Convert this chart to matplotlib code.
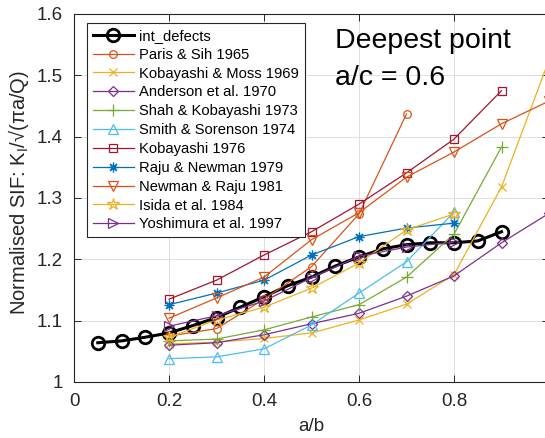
import matplotlib
matplotlib.use("Agg")
import matplotlib.pyplot as plt
from matplotlib.ticker import FormatStrFormatter

plt.rcParams['font.family'] = ['Liberation Sans', 'DejaVu Sans']
plt.rcParams['mathtext.fontset'] = 'custom'
plt.rcParams['mathtext.rm'] = 'Liberation Sans'
plt.rcParams['mathtext.it'] = 'Liberation Sans:italic'

# ---- data ----
int_x = [0.05, 0.1, 0.15, 0.2, 0.25, 0.3, 0.35, 0.4, 0.45, 0.5, 0.55, 0.6, 0.65, 0.7, 0.75, 0.8, 0.85, 0.9]
int_y = [1.064, 1.067, 1.073, 1.080, 1.092, 1.105, 1.122, 1.139, 1.157, 1.171, 1.189, 1.204, 1.217, 1.224, 1.227, 1.227, 1.230, 1.245]

paris_x = [0.2, 0.3, 0.4, 0.5, 0.6, 0.7]
paris_y = [1.075, 1.087, 1.135, 1.188, 1.274, 1.437]

kmoss_x = [0.2, 0.3, 0.4, 0.5, 0.6, 0.7, 0.8, 0.9, 1.0]
kmoss_y = [1.062, 1.065, 1.071, 1.080, 1.101, 1.127, 1.175, 1.318, 1.525]

anderson_x = [0.2, 0.3, 0.4, 0.5, 0.6, 0.7, 0.8, 0.9, 1.0]
anderson_y = [1.060, 1.064, 1.077, 1.095, 1.112, 1.140, 1.173, 1.227, 1.275]

shah_x = [0.2, 0.3, 0.4, 0.5, 0.6, 0.7, 0.8, 0.9]
shah_y = [1.067, 1.070, 1.085, 1.106, 1.126, 1.171, 1.241, 1.383]

smith_x = [0.2, 0.3, 0.4, 0.5, 0.6, 0.7, 0.8]
smith_y = [1.038, 1.041, 1.054, 1.093, 1.145, 1.196, 1.277]

koba76_x = [0.2, 0.3, 0.4, 0.5, 0.6, 0.7, 0.8, 0.9]
koba76_y = [1.135, 1.166, 1.207, 1.245, 1.290, 1.341, 1.396, 1.475]

rajnew_x = [0.2, 0.3, 0.4, 0.5, 0.6, 0.7, 0.8]
rajnew_y = [1.126, 1.145, 1.166, 1.207, 1.237, 1.251, 1.259]

newraj_x = [0.2, 0.3, 0.4, 0.5, 0.6, 0.7, 0.8, 0.9, 1.0]
newraj_y = [1.104, 1.137, 1.171, 1.232, 1.276, 1.334, 1.375, 1.421, 1.458]

isida_x = [0.2, 0.3, 0.4, 0.5, 0.6, 0.7, 0.8]
isida_y = [1.073, 1.101, 1.122, 1.153, 1.194, 1.248, 1.274]

yoshi_x = [0.2, 0.3, 0.4, 0.5, 0.6, 0.7, 0.8]
yoshi_y = [1.091, 1.108, 1.132, 1.170, 1.205, 1.220, 1.228]

labels = ['int_defects', 'Paris & Sih 1965', 'Kobayashi & Moss 1969', 'Anderson et al. 1970',
          'Shah & Kobayashi 1973', 'Smith & Sorenson 1974', 'Kobayashi 1976', 'Raju & Newman 1979',
          'Newman & Raju 1981', 'Isida et al. 1984', 'Yoshimura et al. 1997']
xticks = [0, 0.2, 0.4, 0.6, 0.8, 1.0]
yticks = [1.0, 1.1, 1.2, 1.3, 1.4, 1.5, 1.6]

# ---- styles ----
series = [
    (paris_x, paris_y, '#D95319', 'o', 5.5),
    (kmoss_x, kmoss_y, '#EDB120', 'x', 6),
    (anderson_x, anderson_y, '#7E2F8E', 'D', 5),
    (shah_x, shah_y, '#77AC30', '+', 8),
    (smith_x, smith_y, '#4DBEEE', '^', 7),
    (koba76_x, koba76_y, '#A2142F', 's', 5.5),
    (rajnew_x, rajnew_y, '#0072BD', (8, 2, 0), 7),
    (newraj_x, newraj_y, '#D95319', 'v', 7),
    (isida_x, isida_y, '#EDB120', '*', 9),
    (yoshi_x, yoshi_y, '#7E2F8E', '>', 7),
]

fig = plt.figure(figsize=(5.45, 4.38), dpi=100)
ax = fig.add_axes([74/545, 56/438, 475/545, 368/438])

ax.plot(int_x, int_y, color='black', lw=2.2, marker='o', ms=9, mew=2.0,
        mfc='none', mec='black', label=labels[0], zorder=2)
for (x, y, c, m, ms), lab in zip(series, labels[1:]):
    ax.plot(x, y, color=c, lw=0.9, marker=m, ms=ms, mew=0.9, mfc='none', mec=c,
            label=lab, zorder=3, clip_on=True)

ax.set_xlim(0, 1)
ax.set_ylim(1, 1.6)
ax.set_xticks(xticks)
ax.set_yticks(yticks)
ax.xaxis.set_major_formatter(FormatStrFormatter('%g'))
ax.yaxis.set_major_formatter(FormatStrFormatter('%g'))
ax.tick_params(direction='in', top=True, right=True, length=5, width=0.7,
               labelsize=13.5, colors='#262626')
ax.tick_params(axis='x', pad=8)
ax.tick_params(axis='y', pad=8)
for s in ax.spines.values():
    s.set_color('#262626')
    s.set_linewidth(0.8)
ax.grid(True, color='#dedede', lw=0.7)
ax.set_axisbelow(True)

ax.set_xlabel('a/b', fontsize=13.5, color='#262626', labelpad=6)
ax.set_ylabel('Normalised SIF: K$_\\mathregular{I}$/\u221a(\u03c0a/Q)', fontsize=14.5,
              color='#262626')
ax.yaxis.set_label_coords(-0.09, 0.515)

ax.text(0.549, 1.5446, 'Deepest point', fontsize=20.5, color='black', va='baseline', ha='left')
ax.text(0.549, 1.4843, 'a/c = 0.6', fontsize=20.5, color='black', va='baseline', ha='left')

leg = ax.legend(loc='upper left', bbox_to_anchor=(0.027, 0.9755), borderaxespad=0,
                fontsize=10.6, frameon=True, fancybox=False, edgecolor='#262626',
                framealpha=1, handlelength=2.8, handletextpad=0.35, labelspacing=0.33,
                borderpad=0.4)
leg.get_frame().set_linewidth(0.8)

fig.savefig('out.png', dpi=100)
